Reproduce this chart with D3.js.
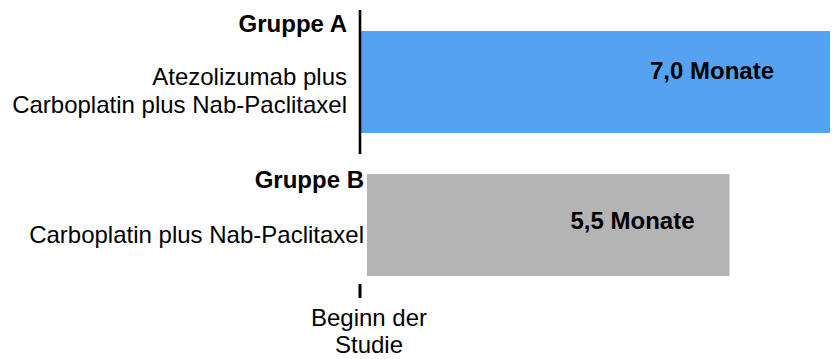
<!DOCTYPE html>
<html>
<head>
<meta charset="utf-8">
<script src="https://cdn.jsdelivr.net/npm/d3@7"></script>
<style>
  html, body { margin: 0; padding: 0; background: #ffffff; }
  svg { display: block; font-family: "Liberation Sans", Arial, sans-serif; }
</style>
</head>
<body>
<svg id="chart" width="832" height="359"></svg>
<script>
// ---- data ----
const groups = ["Gruppe A", "Gruppe B"];
const treatments = [
  ["Atezolizumab plus", "Carboplatin plus Nab-Paclitaxel"],
  ["Carboplatin plus Nab-Paclitaxel"]
];
const months = [7.0, 5.5];
const valueLabels = ["7,0 Monate", "5,5 Monate"];
const axisLabel = ["Beginn der", "Studie"];

// ---- layout / style ----
const colors = ["#55A2F1", "#B4B4B4"];
const barStartOffset = [0, 6];
const labelRight = [347, 364];
const groupBaseline = [1, 14];        // offset from band top
const treatBaselines = [[54, 82], [69]];
const valueCenterOffset = [-118, -97]; // from bar end
const valueBaseline = [48, 55];        // from band top
const fontSize = 24;

const svg = d3.select("#chart");

const x = d3.scaleLinear().domain([0, 7]).range([361, 830]);
const y = d3.scaleBand().domain(groups).range([31, 276]).paddingInner(0.2867).paddingOuter(0);

// bars
svg.selectAll("rect.bar")
  .data(groups)
  .join("rect")
  .attr("class", "bar")
  .attr("x", (d, i) => x(0) + barStartOffset[i])
  .attr("y", d => y(d))
  .attr("width", (d, i) => x(months[i]) - x(0) - barStartOffset[i])
  .attr("height", y.bandwidth())
  .attr("fill", (d, i) => colors[i]);

// axis line (upper segment) and lower tick
const axisX = x(0) - 1;
svg.append("line")
  .attr("x1", axisX).attr("x2", axisX)
  .attr("y1", y.range()[0] - 21).attr("y2", y(groups[0]) + y.bandwidth() + 21)
  .attr("stroke", "#000").attr("stroke-width", 2.6);
svg.append("line")
  .attr("x1", axisX).attr("x2", axisX)
  .attr("y1", y.range()[1] + 8).attr("y2", y.range()[1] + 22)
  .attr("stroke", "#000").attr("stroke-width", 3);

// group names
svg.selectAll("text.group")
  .data(groups)
  .join("text")
  .attr("class", "group")
  .attr("x", (d, i) => labelRight[i])
  .attr("y", (d, i) => y(d) + groupBaseline[i])
  .attr("text-anchor", "end")
  .attr("font-size", fontSize)
  .attr("font-weight", "bold")
  .attr("fill", "#000")
  .text(d => d);

// treatment labels
groups.forEach((g, i) => {
  treatments[i].forEach((t, j) => {
    svg.append("text")
      .attr("x", labelRight[i])
      .attr("y", y(g) + treatBaselines[i][j])
      .attr("text-anchor", "end")
      .attr("font-size", fontSize)
      .attr("fill", "#000")
      .text(t);
  });
});

// value labels
svg.selectAll("text.value")
  .data(groups)
  .join("text")
  .attr("class", "value")
  .attr("x", (d, i) => x(months[i]) + valueCenterOffset[i])
  .attr("y", (d, i) => y(d) + valueBaseline[i])
  .attr("text-anchor", "middle")
  .attr("font-size", fontSize)
  .attr("font-weight", "bold")
  .attr("fill", "#000")
  .text((d, i) => valueLabels[i]);

// axis label
svg.selectAll("text.axislabel")
  .data(axisLabel)
  .join("text")
  .attr("class", "axislabel")
  .attr("x", x(0) + 8)
  .attr("y", (d, i) => 326 + i * 27)
  .attr("text-anchor", "middle")
  .attr("font-size", fontSize)
  .attr("fill", "#000")
  .text(d => d);
</script>
</body>
</html>
